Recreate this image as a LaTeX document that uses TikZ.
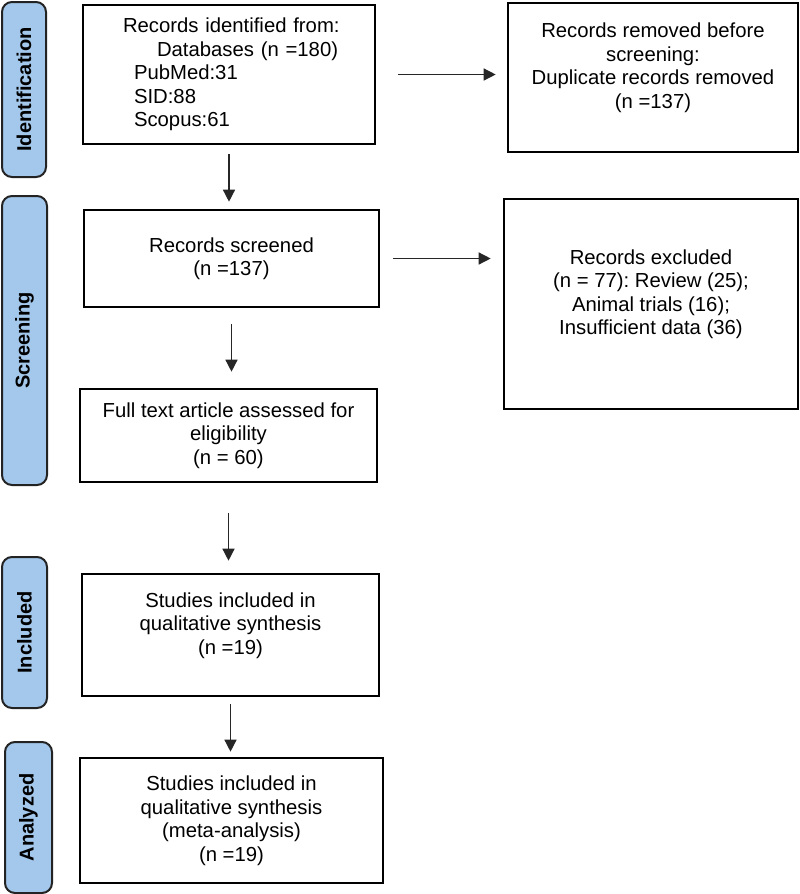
\documentclass[tikz,border=0pt]{standalone}
\usepackage{fontspec}
\setmainfont{Liberation Sans}
\usepackage{tikz}
\usetikzlibrary{arrows.meta}
\usetikzlibrary{calc}
\usetikzlibrary{positioning}
\frenchspacing

\definecolor{phasefill}{RGB}{164,200,236}
\definecolor{phaseline}{RGB}{35,35,35}

\tikzset{
  box/.style={draw=black, line width=1.3pt, align=center, inner sep=0pt},
  phase/.style={draw=phaseline, fill=phasefill, line width=1pt,
    rounded corners=5pt, rotate=90, font=\bfseries, inner sep=0pt},
  arr/.style={-{Triangle[length=6pt,width=6pt]}, line width=0.7pt, color=black!85}
}

\begin{document}
\begin{tikzpicture}[x=0.5pt,y=-0.5pt,font=\fontsize{10.15pt}{11.75pt}\selectfont]
     \useasboundingbox (0,0) rectangle (799,894);

     % phases on the left
     \foreach \name/\x/\y/\len/\breadth/\txt in
     {phId/24/89.5/87.5pt/22pt/Identification,
      phScr/24.5/340.5/144.5pt/22.5pt/Screening,
      phInc/24.5/632.5/75.5pt/22.5pt/Included,
      phAna/28.5/817.5/75.5pt/23.5pt/Analyzed}
       {
         \node[phase, minimum width=\len, minimum height=\breadth] (\name) at (\x,\y) {\txt};
       }

     % main column
     \node[box, minimum width=146pt, minimum height=69.5pt, align=left, text width=112pt]
       (ident) at (229,74.5)
       {\hspace*{3pt}Records identified from:\\
        \hspace*{20pt}Databases (n =180)\\
        \hspace*{8.5pt}PubMed:31\\
        \hspace*{8.5pt}SID:88\\
        \hspace*{8.5pt}Scopus:61};
     \node[box, minimum width=147.5pt, minimum height=48.5pt] (screened) at (231.5,258.5)
       {Records screened\\(n =137)};
     \node[box, minimum width=148.5pt, minimum height=46.5pt] (fulltext) at (228.5,435.5)
       {Full text article assessed for\\eligibility\\(n = 60)};
     \node[box, minimum width=148.5pt, minimum height=61pt] (included) at (230.5,635)
       {Studies included in\\qualitative synthesis\\(n =19)\\\mbox{}};
     \node[box, minimum width=151.5pt, minimum height=62.5pt] (analyzed) at (231.5,820.5)
       {Studies included in\\qualitative synthesis\\(meta-analysis)\\(n =19)};

     % right column
     \node[box, minimum width=145pt, minimum height=74.5pt] (removed) at (653,77.5)
       {Records removed before\\screening:\\Duplicate records removed\\(n =137)\\\mbox{}};
     \node[box, minimum width=147pt, minimum height=105pt] (excluded) at (651,304)
       {Records excluded\\(n = 77): Review (25);\\Animal trials (16);\\Insufficient data (36)\\\mbox{}};

     % arrows down
     \foreach \a/\b/\s/\e in
     {ident/screened/4.5pt/3.5pt,
      screened/fulltext/8pt/8pt,
      fulltext/included/15pt/6pt,
      included/analyzed/3.5pt/2.5pt}
       {
         \draw[arr, shorten <=\s, shorten >=\e] (\a.south) -- (\a.south |- \b.north);
       }

     % arrows right
     \draw[arr, shorten <=11pt, shorten >=5.5pt] (ident.east) -- (ident.east -| removed.west);
     \draw[arr, shorten <=6.5pt, shorten >=6pt] (screened.east) -- (screened.east -| excluded.west);
\end{tikzpicture}
\end{document}
